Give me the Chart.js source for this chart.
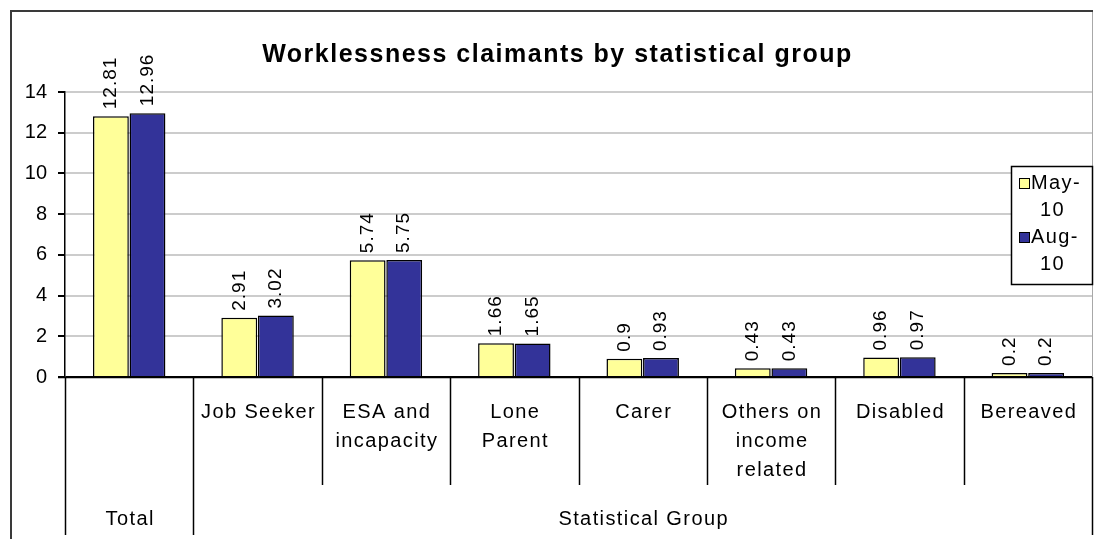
<!DOCTYPE html>
<html>
<head>
<meta charset="utf-8">
<title>Worklessness claimants by statistical group</title>
<script src="https://cdn.jsdelivr.net/npm/chart.js@4/dist/chart.umd.min.js"></script>
<style>
  html, body { margin: 0; padding: 0; background: #fff; }
  #wrap { width: 1095px; height: 539px; }
</style>
</head>
<body>
<div id="wrap"><canvas id="grafico" width="1095" height="539"></canvas></div>
<script>
// dados do gráfico
const titulo = 'Worklessness claimants by statistical group';
const categorias = ['Total', 'Job Seeker', 'ESA and incapacity', 'Lone Parent', 'Carer', 'Others on income related', 'Disabled', 'Bereaved'];
// linhas do rótulo de cada categoria (a primeira fica em branco, o "Total" vai na linha de baixo)
const linhasCategorias = [[], ['Job Seeker'], ['ESA and', 'incapacity'], ['Lone', 'Parent'], ['Carer'], ['Others on', 'income', 'related'], ['Disabled'], ['Bereaved']];
// grupos do segundo nível: nome, primeira e última categoria
const grupos = [['Total', 0, 0], ['Statistical Group', 1, 7]];
const serieMaio = [12.81, 2.91, 5.74, 1.66, 0.9, 0.43, 0.96, 0.2];
const serieAgosto = [12.96, 3.02, 5.75, 1.65, 0.93, 0.43, 0.97, 0.2];
const nomesSeries = [['May-', '10'], ['Aug-', '10']];
const ticksY = [0, 2, 4, 6, 8, 10, 12, 14];

const FONTE = "'Liberation Sans', Arial, sans-serif";
const AMARELO = '#FFFF99';
const AZUL = '#333399';

// fundo branco + moldura
const pluginFundo = {
    id: 'fundo',
    beforeDraw(chart) {
        const ctx = chart.ctx;
        ctx.save();
        ctx.fillStyle = '#fff';
        ctx.fillRect(0, 0, chart.width, chart.height);
        ctx.restore();
    },
    afterDraw(chart) {
        const ctx = chart.ctx;
        const area = chart.chartArea;
        ctx.save();
        ctx.strokeStyle = '#a8a8a8';
        ctx.lineWidth = 1;
        ctx.beginPath();
        ctx.moveTo(area.right + 0.5, 11);
        ctx.lineTo(area.right + 0.5, area.bottom);
        ctx.stroke();
        ctx.strokeStyle = '#3a3a3a';
        ctx.lineWidth = 2;
        ctx.beginPath();
        ctx.moveTo(11, chart.height);
        ctx.lineTo(11, 11);
        ctx.lineTo(area.right + 1, 11);
        ctx.stroke();
        ctx.restore();
    }
};

// título (um pouco à esquerda do centro, como no original)
const pluginTitulo = {
    id: 'titulo',
    afterDraw(chart) {
        const ctx = chart.ctx;
        const area = chart.chartArea;
        ctx.save();
        ctx.font = 'bold 25px ' + FONTE;
        ctx.letterSpacing = '1.5px';
        ctx.fillStyle = '#000';
        ctx.textAlign = 'center';
        ctx.textBaseline = 'middle';
        ctx.fillText(titulo, (area.left + area.right) / 2 - 21, 55);
        ctx.restore();
    }
};

// valores escritos na vertical acima das barras
const pluginValores = {
    id: 'valores',
    afterDatasetsDraw(chart) {
        const ctx = chart.ctx;
        ctx.save();
        ctx.font = '19px ' + FONTE;
        ctx.letterSpacing = '1px';
        ctx.fillStyle = '#000';
        ctx.textAlign = 'left';
        ctx.textBaseline = 'middle';
        chart.data.datasets.forEach((ds, i) => {
            chart.getDatasetMeta(i).data.forEach((barra, j) => {
                ctx.save();
                ctx.translate(barra.x, barra.y - 7);
                ctx.rotate(-Math.PI / 2);
                ctx.fillText(String(ds.data[j]), 0, 0);
                ctx.restore();
            });
        });
        ctx.restore();
    }
};

// eixo de categorias em dois níveis
const pluginEixoX = {
    id: 'eixoX',
    afterDraw(chart) {
        const ctx = chart.ctx;
        const area = chart.chartArea;
        const largura = (area.right - area.left) / categorias.length;
        const borda = i => Math.round(area.left + i * largura) + 0.5;
        ctx.save();
        ctx.strokeStyle = '#000';
        ctx.lineWidth = 1.5;
        // linha do zero
        ctx.beginPath();
        ctx.moveTo(area.left - 7, area.bottom + 0.5);
        ctx.lineTo(area.right, area.bottom + 0.5);
        ctx.stroke();
        // separadores
        const inicioGrupo = new Set();
        grupos.forEach(g => { inicioGrupo.add(g[1]); inicioGrupo.add(g[2] + 1); });
        for (let i = 0; i <= categorias.length; i++) {
            const fim = inicioGrupo.has(i) ? 535 : 485;
            ctx.beginPath();
            ctx.moveTo(borda(i), area.bottom);
            ctx.lineTo(borda(i), fim);
            ctx.stroke();
        }
        ctx.font = '20px ' + FONTE;
        ctx.letterSpacing = '1.4px';
        ctx.fillStyle = '#000';
        ctx.textAlign = 'center';
        ctx.textBaseline = 'middle';
        linhasCategorias.forEach((linhas, i) => {
            const cx = area.left + (i + 0.5) * largura;
            linhas.forEach((t, k) => ctx.fillText(t, cx + 1, area.bottom + 35 + k * 29));
        });
        grupos.forEach(g => {
            const cx = area.left + ((g[1] + g[2] + 1) / 2) * largura;
            ctx.fillText(g[0], cx + 1, 519);
        });
        ctx.restore();
    }
};

// legenda com caixa, por cima da área do gráfico
const pluginLegenda = {
    id: 'legendaCaixa',
    afterDraw(chart) {
        const ctx = chart.ctx;
        const area = chart.chartArea;
        const x0 = area.right - 81, y0 = 166, w = 81, h = 118;
        ctx.save();
        ctx.fillStyle = '#fff';
        ctx.fillRect(x0, y0, w, h);
        ctx.strokeStyle = '#000';
        ctx.lineWidth = 1.5;
        ctx.strokeRect(x0 + 0.5, y0 + 0.5, w, h);
        ctx.font = '20px ' + FONTE;
        ctx.letterSpacing = '1.4px';
        ctx.textBaseline = 'middle';
        ctx.textAlign = 'left';
        chart.data.datasets.forEach((ds, i) => {
            const y = y0 + 17 + i * 54;
            ctx.fillStyle = ds.backgroundColor;
            ctx.fillRect(x0 + 8, y - 5, 10, 10);
            ctx.lineWidth = 1;
            ctx.strokeRect(x0 + 8.5, y - 4.5, 10, 10);
            ctx.fillStyle = '#000';
            nomesSeries[i].forEach((t, k) => {
                ctx.fillText(t, x0 + 20 + (k ? 9 : 0), y + k * 27);
            });
        });
        ctx.restore();
    }
};

new Chart(document.getElementById('grafico'), {
    type: 'bar',
    data: {
        labels: categorias,
        datasets: [
            { label: 'May-10', data: serieMaio, backgroundColor: AMARELO, borderColor: '#000', borderWidth: 1.5 },
            { label: 'Aug-10', data: serieAgosto, backgroundColor: AZUL, borderColor: '#000', borderWidth: 1.5 }
        ]
    },
    options: {
        responsive: false,
        animation: false,
        devicePixelRatio: 1,
        categoryPercentage: 0.57,
        barPercentage: 0.98,
        layout: { padding: { left: 0, right: 3, top: 92, bottom: 162 } },
        plugins: {
            legend: { display: false },
            title: { display: false },
            tooltip: { enabled: false }
        },
        scales: {
            x: { display: false, offset: true },
            y: {
                min: 0,
                max: 14,
                afterBuildTicks(s) { s.ticks = ticksY.map(v => ({ value: v })); },
                afterFit(s) { s.width = 65; },
                ticks: {
                    color: '#000',
                    padding: 11,
                    font: { family: FONTE, size: 20 }
                },
                grid: {
                    color: c => c.tick && c.tick.value === 0 ? '#000' : '#cccccc',
                    lineWidth: 2,
                    tickColor: '#000',
                    tickLength: 7
                },
                border: { color: '#000', width: 1.5 }
            }
        }
    },
    plugins: [pluginFundo, pluginValores, pluginEixoX, pluginLegenda, pluginTitulo]
});
</script>
</body>
</html>
